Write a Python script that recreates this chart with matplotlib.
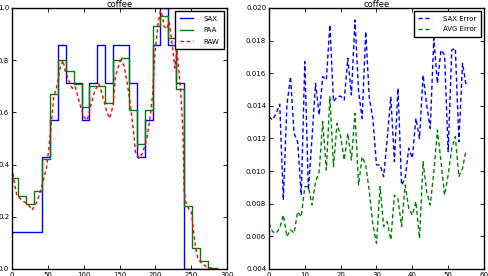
import matplotlib
matplotlib.use('Agg')
import matplotlib.pyplot as plt
import numpy as np

# raw coffee series (normalised)
raw_x = [0, 4, 7, 16, 23, 28, 35, 42, 48, 52,
         58, 63, 67, 71, 74, 80, 84, 88, 95, 100,
         105, 109, 115, 121, 126, 132, 136, 141, 144, 151,
         156, 161, 165, 170, 172, 177, 182, 188, 193, 196,
         199, 204, 207, 210, 212, 216, 219, 221, 225, 227,
         230, 235, 238, 239, 240, 242, 247, 250, 253, 256,
         259, 264, 271, 278, 285]
raw_y = [0.39, 0.32, 0.28, 0.26, 0.245, 0.226, 0.258, 0.32, 0.387, 0.475,
         0.655, 0.705, 0.77, 0.80, 0.76, 0.717, 0.692, 0.70, 0.628, 0.583,
         0.57, 0.617, 0.68, 0.71, 0.667, 0.603, 0.577, 0.628, 0.737, 0.80,
         0.78, 0.705, 0.628, 0.513, 0.449, 0.424, 0.444, 0.50, 0.59, 0.667,
         0.82, 0.947, 0.99, 0.967, 0.928, 0.92, 0.947, 0.91, 0.82, 0.77,
         0.833, 0.69, 0.54, 0.45, 0.296, 0.258, 0.226, 0.22, 0.143, 0.08,
         0.042, 0.022, 0.009, 0.003, 0.0]

# segment edges for PAA / SAX
seg_edges = [0, 9, 20, 31, 42, 53, 64, 75, 86, 97, 108, 119, 130, 141,
             152, 163, 174, 185, 196, 207, 218, 229, 240, 251, 262, 273, 286]
paa_vals = [0.35, 0.28, 0.25, 0.30, 0.42, 0.67, 0.80, 0.76, 0.71, 0.62,
            0.70, 0.70, 0.635, 0.80, 0.81, 0.61, 0.48, 0.61, 0.93, 0.97,
            0.886, 0.69, 0.24, 0.08, 0.03, 0.005]
sax_symbols = [1, 1, 1, 1, 3, 4, 6, 5, 5, 4, 5, 6, 5, 6, 6, 5, 3, 4, 6, 7,
               6, 5, 0, 0, 0, 0]
alphabet_size = 8

# reconstruction errors per series
err_idx = list(range(56))
sax_err = [0.01334, 0.01314, 0.01354, 0.0141, 0.00823, 0.01405, 0.01579, 0.01232,
           0.0118, 0.00853, 0.01671, 0.00884, 0.01201, 0.01538, 0.01344, 0.01579,
           0.01559, 0.01896, 0.01426, 0.01456, 0.0146, 0.01436, 0.01692, 0.01467,
           0.01926, 0.01487, 0.01324, 0.01855, 0.01446, 0.0132, 0.01038, 0.01038,
           0.00966, 0.01201, 0.01456, 0.01058, 0.01508, 0.00915, 0.00956, 0.0114,
           0.01079, 0.01324, 0.01201, 0.01589, 0.01405, 0.01262, 0.01814, 0.01538,
           0.01742, 0.01712, 0.01119, 0.01742, 0.01753, 0.0118, 0.01661, 0.01528]
avg_err = [0.0068, 0.00629, 0.00619, 0.0065, 0.00731, 0.00598, 0.0064, 0.0062,
           0.00751, 0.0072, 0.00905, 0.00905, 0.00792, 0.00935, 0.00996, 0.01303,
           0.01007, 0.01456, 0.01027, 0.01293, 0.01211, 0.01068, 0.01232, 0.01068,
           0.01354, 0.00915, 0.01088, 0.01038, 0.00874, 0.0067, 0.00558, 0.00905,
           0.0066, 0.0069, 0.00578, 0.00853, 0.0083, 0.0066, 0.00915, 0.00772,
           0.0073, 0.00813, 0.00588, 0.01058, 0.00874, 0.00792, 0.00996, 0.01252,
           0.01058, 0.00853, 0.00976, 0.0114, 0.01211, 0.00966, 0.01017, 0.0113]

plt.rcParams['font.size'] = 5

fig = plt.figure(figsize=(4.88, 2.76), dpi=100)
fig.patch.set_facecolor('white')
ax1 = fig.add_axes([0.0246, 0.0254, 0.441, 0.9457])
ax2 = fig.add_axes([0.5512, 0.0254, 0.4406, 0.9457])

sax_levels = [s / (alphabet_size - 1) for s in sax_symbols]
ax1.step(seg_edges, sax_levels + [sax_levels[-1]], where='post', color='b', lw=1, label='SAX')
ax1.step(seg_edges, paa_vals + [paa_vals[-1]], where='post', color='g', lw=1, label='PAA')
ax1.plot(raw_x, raw_y, 'r--', lw=1, dashes=(2.5, 2), label='RAW')
ax1.set_xlim(0, 300)
ax1.set_ylim(0, 1.0)
ax1.set_xticks(np.arange(0, 301, 50))
ax1.set_yticks(np.arange(0, 1.01, 0.2))
ax1.set_title('coffee', fontsize=6, pad=1)
ax1.legend(loc='upper right', fontsize=5, handlelength=2, handletextpad=1.5,
           labelspacing=0.8, borderpad=0.6, fancybox=False, edgecolor='black',
           framealpha=1)

ax2.plot(err_idx, sax_err, 'b--', lw=1, dashes=(3, 2), label='SAX Error')
ax2.plot(err_idx, avg_err, 'g--', lw=1, dashes=(3, 2), label='AVG Error')
ax2.set_xlim(0, 60)
ax2.set_ylim(0.004, 0.020)
ax2.set_xticks(np.arange(0, 61, 10))
ax2.set_yticks(np.arange(0.004, 0.0201, 0.002))
ax2.set_title('coffee', fontsize=6, pad=1)
ax2.legend(loc='upper right', fontsize=5, handlelength=2, handletextpad=1.5,
           labelspacing=0.7, borderpad=0.6, fancybox=False, edgecolor='black',
           framealpha=1)

for ax in (ax1, ax2):
    ax.tick_params(direction='in', top=True, right=True, length=3, width=0.6, pad=2)
    for sp in ax.spines.values():
        sp.set_linewidth(1)

fig.savefig('out.png', dpi=100, facecolor='white')
